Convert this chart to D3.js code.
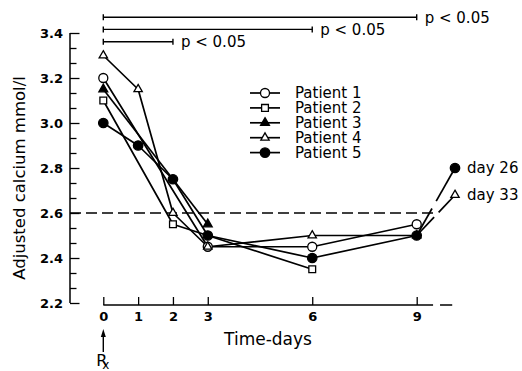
<!DOCTYPE html>
<html><head><meta charset="utf-8">
<script src="https://cdn.jsdelivr.net/npm/d3@7"></script>
<style>
html,body{margin:0;padding:0;background:#fff;}
svg{display:block;font-family:"DejaVu Sans",sans-serif;}
</style></head>
<body>
<svg id="c" width="522" height="371"></svg>
<script>
// ---- data ----
const xTicks = [0, 1, 2, 3, 6, 9];
const yMajor = [2.2, 2.4, 2.6, 2.8, 3.0, 3.2, 3.4];
const patientNames = ["Patient 1", "Patient 2", "Patient 3", "Patient 4", "Patient 5"];
const p1Days = [0, 3, 6, 9],          p1Vals = [3.2, 2.45, 2.45, 2.55];
const p2Days = [0, 2, 6],             p2Vals = [3.1, 2.55, 2.35];
const p3Days = [0, 3],                p3Vals = [3.15, 2.55];
const p4Days = [0, 1, 2, 3, 6, 9],    p4Vals = [3.3, 3.15, 2.6, 2.45, 2.5, 2.5];
const p5Days = [0, 1, 2, 3, 6, 9],    p5Vals = [3.0, 2.9, 2.75, 2.5, 2.4, 2.5];
const lateLabels = ["day 26", "day 33"];
const lateValues = [2.8, 2.68];
const latePatient = [4, 3];          // index into patients
const refLevel = 2.6;
const sigEnds = [9, 6, 2];
const sigLabels = ["p < 0.05", "p < 0.05", "p < 0.05"];
const lateSlot = 10.1;               // axis position after the break

const days = [p1Days, p2Days, p3Days, p4Days, p5Days];
const vals = [p1Vals, p2Vals, p3Vals, p4Vals, p5Vals];
const markerType = ["openCircle", "openSquare", "filledTriangle", "openTriangle", "filledCircle"];

// ---- layout ----
const svg = d3.select("#c");
const x = d3.scaleLinear().domain([0, 9]).range([103.3, 416.7]);
const y = d3.scaleLinear().domain([2.2, 3.4]).range([303, 33]);
const axisX = 70, xAxisY = 305;
const LW = 1.7;

function marker(sel, type) {
  let sym, size, fill;
  if (type === "openCircle") { sym = d3.symbolCircle; size = 64; fill = "#fff"; }
  else if (type === "filledCircle") { sym = d3.symbolCircle; size = 70; fill = "#000"; }
  else if (type === "openSquare") { sym = d3.symbolSquare; size = 46; fill = "#fff"; }
  else if (type === "openTriangle") { sym = d3.symbolTriangle; size = 30; fill = "#fff"; }
  else { sym = d3.symbolTriangle; size = 34; fill = "#000"; }
  sel.attr("d", d3.symbol(sym, size)()).attr("fill", fill)
     .attr("stroke", "#000").attr("stroke-width", 1.3);
}

// y axis line
svg.append("line").attr("x1", axisX).attr("x2", axisX)
  .attr("y1", y(3.4)).attr("y2", y(2.2)).attr("stroke", "#000").attr("stroke-width", 1.5);
// y ticks (inward) - minor at thirds
const yMinor = d3.range(0, 19).map(i => 2.2 + i * 0.2 / 3);
const gyT = svg.append("g").attr("transform", `translate(${axisX},0)`)
  .call(d3.axisRight(y).tickValues(yMinor).tickSize(8).tickFormat(""));
gyT.select(".domain").remove();
gyT.selectAll(".tick line").attr("stroke-width", 1.3)
  .attr("x2", (d, i) => i % 3 === 0 ? 9.5 : 6.5);
// y labels
const gyL = svg.append("g").attr("transform", `translate(${axisX},0)`)
  .call(d3.axisLeft(y).tickValues(yMajor).tickSize(0).tickPadding(7).tickFormat(d3.format(".1f")));
gyL.select(".domain").remove();
gyL.selectAll("text").attr("font-family", "DejaVu Sans").attr("font-size", 13)
  .attr("font-weight", "bold").attr("fill", "#000");

// x axis
const xBreakA = 9.47, xBreakB = 9.67, xBreakC = 10.02;
svg.append("line").attr("x1", x(0)).attr("x2", x(xBreakA))
  .attr("y1", xAxisY).attr("y2", xAxisY).attr("stroke", "#000").attr("stroke-width", 1.5);
svg.append("line").attr("x1", x(xBreakB)).attr("x2", x(xBreakC))
  .attr("y1", xAxisY).attr("y2", xAxisY).attr("stroke", "#000").attr("stroke-width", 1.5);
const gxT = svg.append("g").attr("transform", `translate(0,${xAxisY})`)
  .call(d3.axisTop(x).tickValues(xTicks).tickSize(8).tickFormat(""));
gxT.select(".domain").remove();
gxT.selectAll(".tick line").attr("stroke-width", 1.3);
const gxL = svg.append("g").attr("transform", `translate(0,${xAxisY})`)
  .call(d3.axisBottom(x).tickValues(xTicks).tickSize(0).tickPadding(7).tickFormat(d3.format("d")));
gxL.select(".domain").remove();
gxL.selectAll("text").attr("font-family", "DejaVu Sans").attr("font-size", 13)
  .attr("font-weight", "bold").attr("fill", "#000");

// axis titles
svg.append("text").attr("transform", `translate(25,${(y(3.4) + y(2.2)) / 2 + 10}) rotate(-90)`)
  .attr("text-anchor", "middle").attr("font-size", 16.5).text("Adjusted calcium mmol/l");
svg.append("text").attr("x", 268).attr("y", 345).attr("text-anchor", "middle")
  .attr("font-size", 17).text("Time-days");

// Rx arrow
const ax = x(0);
svg.append("line").attr("x1", ax).attr("x2", ax).attr("y1", 352).attr("y2", 334)
  .attr("stroke", "#000").attr("stroke-width", 1.4);
svg.append("path").attr("d", `M${ax},329 L${ax - 2.5},337 L${ax + 2.5},337 Z`).attr("fill", "#000");
svg.append("text").attr("x", ax - 7).attr("y", 366).attr("font-size", 16).text("R");
svg.append("text").attr("x", ax - 1).attr("y", 368.5).attr("font-size", 12).text("x");

// reference dashed line
svg.append("line").attr("x1", axisX).attr("x2", 435)
  .attr("y1", y(refLevel)).attr("y2", y(refLevel))
  .attr("stroke", "#000").attr("stroke-width", 1.5).attr("stroke-dasharray", "11,5");

// significance brackets
const sigY = [17.3, 29.4, 41.7];
sigEnds.forEach((e, i) => {
  const g = svg.append("g");
  g.append("line").attr("x1", x(0)).attr("x2", x(e)).attr("y1", sigY[i]).attr("y2", sigY[i])
    .attr("stroke", "#000").attr("stroke-width", 1.4);
  [0, e].forEach(d => g.append("line").attr("x1", x(d)).attr("x2", x(d))
    .attr("y1", sigY[i] - 3).attr("y2", sigY[i] + 3).attr("stroke", "#000").attr("stroke-width", 1.4));
  g.append("text").attr("x", x(e) + 8).attr("y", sigY[i]).attr("dy", "0.36em")
    .attr("font-size", 15).text(sigLabels[i]);
});

// series lines
const line = d3.line().x(d => x(d[0])).y(d => y(d[1]));
days.forEach((ds, i) => {
  const pts = ds.map((d, j) => [d, vals[i][j]]);
  svg.append("path").attr("d", line(pts)).attr("fill", "none")
    .attr("stroke", "#000").attr("stroke-width", LW).attr("stroke-linejoin", "round");
});
// late lines (broken)
latePatient.forEach((pi, k) => {
  const lastD = days[pi][days[pi].length - 1];
  const lastV = vals[pi][vals[pi].length - 1];
  const v = lateValues[k];
  const at = t => lastV + (v - lastV) * (t - lastD) / (lateSlot - lastD);
  const g1 = k === 0 ? [9.44, 9.56] : [9.5, 9.63];
  svg.append("path").attr("d", line([[lastD, lastV], [g1[0], at(g1[0])]]))
    .attr("stroke", "#000").attr("stroke-width", LW).attr("fill", "none");
  svg.append("path").attr("d", line([[g1[1], at(g1[1])], [lateSlot, v]]))
    .attr("stroke", "#000").attr("stroke-width", LW).attr("fill", "none");
});

// markers
days.forEach((ds, i) => {
  ds.forEach((d, j) => {
    svg.append("path").attr("transform", `translate(${x(d)},${y(vals[i][j])})`)
      .call(marker, markerType[i]);
  });
});
latePatient.forEach((pi, k) => {
  svg.append("path").attr("transform", `translate(${x(lateSlot)},${y(lateValues[k])})`)
    .call(marker, markerType[pi]);
  svg.append("text").attr("x", x(lateSlot) + 12).attr("y", y(lateValues[k])).attr("dy", "0.3em")
    .attr("font-size", 15).text(lateLabels[k]);
});

// legend
const legX = 250, legY0 = 93, legDy = 14.9;
patientNames.forEach((n, i) => {
  const ly = legY0 + i * legDy;
  svg.append("line").attr("x1", legX).attr("x2", legX + 30).attr("y1", ly).attr("y2", ly)
    .attr("stroke", "#000").attr("stroke-width", LW);
  svg.append("path").attr("transform", `translate(${legX + 15},${ly})`).call(marker, markerType[i]);
  svg.append("text").attr("x", legX + 45).attr("y", ly).attr("dy", "0.36em")
    .attr("font-size", 15).text(n);
});
</script>
</body></html>
